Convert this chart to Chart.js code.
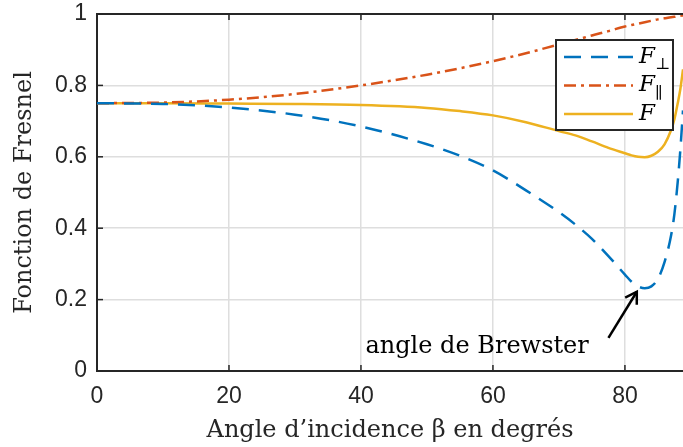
<!DOCTYPE html>
<html>
<head>
<meta charset="utf-8">
<script src="https://cdn.jsdelivr.net/npm/chart.js@4/dist/chart.umd.min.js"></script>
<style>
  html, body { margin: 0; padding: 0; background: #fff; }
  #wrap { width: 683px; height: 447px; }
</style>
</head>
<body>
<div id="wrap"><canvas id="chartFresnel"></canvas></div>
<script>
// Données
const angles = [0, 10, 20, 30, 40, 50, 55, 60, 65, 70, 72.5, 75, 77.5, 80, 81, 82, 83, 84, 85, 86, 87, 87.5, 88, 88.4, 88.8];
const fPerp  = [0.75, 0.748, 0.738, 0.718, 0.685, 0.635, 0.603, 0.562, 0.506, 0.445, 0.41, 0.37, 0.322, 0.27, 0.25, 0.237, 0.232, 0.237, 0.258, 0.305, 0.38, 0.44, 0.53, 0.62, 0.73];
const fPar   = [0.75, 0.752, 0.76, 0.776, 0.80, 0.83, 0.848, 0.868, 0.89, 0.915, 0.927, 0.94, 0.952, 0.965, 0.969, 0.973, 0.977, 0.981, 0.985, 0.988, 0.991, 0.992, 0.994, 0.995, 0.996];
const fTot   = [0.75, 0.75, 0.749, 0.748, 0.745, 0.737, 0.728, 0.716, 0.697, 0.672, 0.66, 0.643, 0.625, 0.61, 0.604, 0.6, 0.599, 0.603, 0.614, 0.635, 0.675, 0.705, 0.75, 0.79, 0.845];
const xTicks = [0, 20, 40, 60, 80];
const yTicks = [0, 0.2, 0.4, 0.6, 0.8, 1];

const serif = "'DejaVu Serif', 'Liberation Serif', serif";
const sans = "'Liberation Sans', Arial, sans-serif";

const toPts = (ys) => ys.map((y, i) => ({ x: angles[i], y: y }));

// Légende dessinée dans la zone du graphique (F⊥, F∥, F)
const legendInside = {
    id: 'legendInside',
    afterDatasetsDraw(chart) {
        const ctx = chart.ctx;
        const a = chart.chartArea;
        const w = 117, h = 90;
        const x0 = a.right - 10 - w, y0 = 40;
        ctx.save();
        ctx.fillStyle = '#fff';
        ctx.fillRect(x0, y0, w, h);
        ctx.lineWidth = 2;
        ctx.strokeStyle = '#262626';
        ctx.strokeRect(x0, y0, w, h);
        const subs = ['\u22A5', '\u2225', ''];
        chart.data.datasets.forEach((ds, i) => {
            const yy = y0 + 17 + i * 28.5;
            ctx.beginPath();
            ctx.setLineDash(ds.borderDash || []);
            ctx.strokeStyle = ds.borderColor;
            ctx.lineWidth = ds.borderWidth;
            ctx.moveTo(x0 + 8, yy);
            ctx.lineTo(x0 + 77, yy);
            ctx.stroke();
            ctx.setLineDash([]);
            ctx.fillStyle = '#000';
            ctx.textBaseline = 'middle';
            ctx.font = 'italic 23px ' + serif;
            ctx.fillText('F', x0 + 83, yy);
            if (subs[i]) {
                ctx.font = '16px ' + serif;
                ctx.fillText(subs[i], x0 + 99, yy + 8);
            }
        });
        ctx.restore();
    }
};

// Annotation « angle de Brewster » + flèche, cadre du haut, petites graduations intérieures
const annot = {
    id: 'annot',
    afterDraw(chart) {
        const ctx = chart.ctx;
        const xs = chart.scales.x, ys = chart.scales.y;
        const a = chart.chartArea;
        ctx.save();
        ctx.fillStyle = '#000';
        ctx.font = '24px ' + serif;
        ctx.textAlign = 'center';
        ctx.textBaseline = 'alphabetic';
        ctx.fillText('angle de Brewster', xs.getPixelForValue(57.6), ys.getPixelForValue(0.05));
        const x1 = xs.getPixelForValue(77.5), y1 = ys.getPixelForValue(0.093);
        const x2 = xs.getPixelForValue(81.8), y2 = ys.getPixelForValue(0.222);
        ctx.strokeStyle = '#000';
        ctx.lineWidth = 2.5;
        ctx.beginPath();
        ctx.moveTo(x1, y1);
        ctx.lineTo(x2, y2);
        ctx.stroke();
        const ang = Math.atan2(y2 - y1, x2 - x1);
        ctx.beginPath();
        ctx.moveTo(x2 - 13 * Math.cos(ang - 0.55), y2 - 13 * Math.sin(ang - 0.55));
        ctx.lineTo(x2, y2);
        ctx.lineTo(x2 - 13 * Math.cos(ang + 0.55), y2 - 13 * Math.sin(ang + 0.55));
        ctx.stroke();
        // cadre du haut
        ctx.strokeStyle = '#262626';
        ctx.lineWidth = 2;
        ctx.beginPath(); ctx.moveTo(a.left - 1, a.top); ctx.lineTo(a.right, a.top); ctx.stroke();
        // graduations
        ctx.lineWidth = 1.5;
        xTicks.forEach(v => {
            const px = xs.getPixelForValue(v);
            ctx.beginPath(); ctx.moveTo(px, a.bottom); ctx.lineTo(px, a.bottom - 6); ctx.stroke();
            ctx.beginPath(); ctx.moveTo(px, a.top); ctx.lineTo(px, a.top + 6); ctx.stroke();
        });
        yTicks.forEach(v => {
            const py = ys.getPixelForValue(v);
            ctx.beginPath(); ctx.moveTo(a.left, py); ctx.lineTo(a.left + 6, py); ctx.stroke();
        });
        ctx.restore();
    }
};

const chartFresnel = new Chart(document.getElementById('chartFresnel').getContext('2d'), {
    type: 'line',
    data: {
        datasets: [
            { label: 'F\u22A5', data: toPts(fPerp), borderColor: '#0072BD', borderWidth: 2.5, borderDash: [17, 10] },
            { label: 'F\u2225', data: toPts(fPar), borderColor: '#D95319', borderWidth: 2.5, borderDash: [12, 5, 3, 5] },
            { label: 'F', data: toPts(fTot), borderColor: '#EDB120', borderWidth: 2.5 }
        ]
    },
    options: {
        responsive: true,
        maintainAspectRatio: false,
        animation: false,
        clip: false,
        elements: { point: { radius: 0 }, line: { cubicInterpolationMode: 'monotone', fill: false } },
        layout: { padding: { left: 0, right: 0, top: 14, bottom: 0 } },
        plugins: { legend: { display: false }, tooltip: { enabled: false } },
        scales: {
            x: {
                type: 'linear',
                min: 0,
                max: 88.8,
                afterFit: (s) => { s.height = 76; s.paddingLeft = 0; s.paddingRight = 0; },
                afterBuildTicks: (s) => { s.ticks = xTicks.map(v => ({ value: v })); },
                grid: { color: '#dedede', lineWidth: 1.5, drawTicks: false },
                border: { display: true, color: '#262626', width: 2 },
                ticks: { color: '#262626', font: { family: sans, size: 23 }, padding: 12, maxRotation: 0 },
                title: { display: true, text: 'Angle d\u2019incidence \u03B2 en degr\u00E9s', color: '#262626', font: { family: serif, size: 24 }, padding: { top: 0, bottom: 2 } }
            },
            y: {
                min: 0,
                max: 1,
                afterFit: (s) => { s.width = 97; s.paddingTop = 0; s.paddingBottom = 0; },
                afterBuildTicks: (s) => { s.ticks = yTicks.map(v => ({ value: v })); },
                grid: { color: '#dedede', lineWidth: 1.5, drawTicks: false },
                border: { display: true, color: '#262626', width: 2 },
                ticks: { color: '#262626', font: { family: sans, size: 23 }, padding: 10, callback: (v) => String(Math.round(v * 10) / 10) },
                title: { display: true, text: 'Fonction de Fresnel', color: '#262626', font: { family: serif, size: 24 }, padding: { top: 10, bottom: 0 } }
            }
        }
    },
    plugins: [legendInside, annot]
});
</script>
</body>
</html>
